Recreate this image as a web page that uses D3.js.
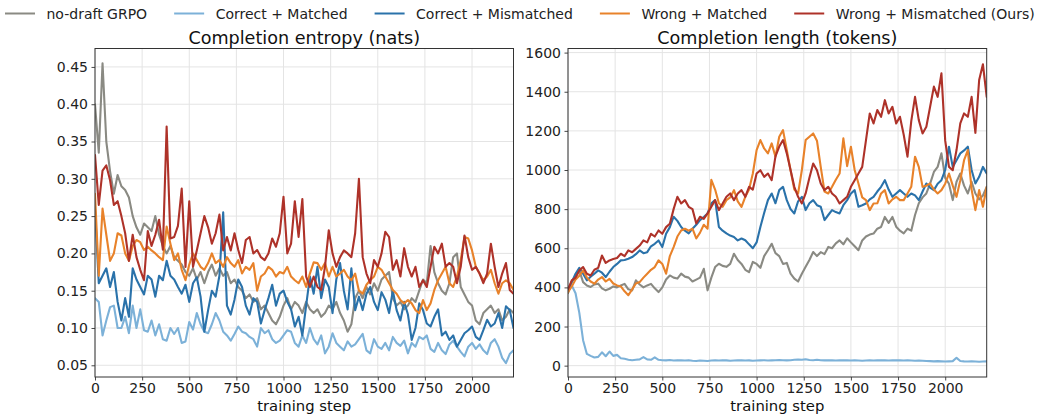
<!DOCTYPE html>
<html><head><meta charset="utf-8">
<script src="https://cdn.jsdelivr.net/npm/d3@7"></script>
<style>
body{margin:0;background:#fff}
svg{display:block}
text{font-family:"DejaVu Sans",sans-serif}
</style>
</head><body>
<svg id="chart" width="1038" height="414"></svg>
<script>
// ---------- DATA ----------
const steps = [
0,20,40,60,80,100,120,140,160,180,
200,220,240,260,280,300,320,340,360,380,
400,420,440,460,480,500,520,540,560,580,
600,620,640,660,680,700,720,740,760,780,
800,820,840,860,880,900,920,940,960,980,
1000,1020,1040,1060,1080,1100,1120,1140,1160,1180,
1200,1220,1240,1260,1280,1300,1320,1340,1360,1380,
1400,1420,1440,1460,1480,1500,1520,1540,1560,1580,
1600,1620,1640,1660,1680,1700,1720,1740,1760,1780,
1800,1820,1840,1860,1880,1900,1920,1940,1960,1980,
2000,2020,2040,2060,2080,2100,2120,2140,2160,2180,
2200,2220];

const seriesNames = ["no-draft GRPO","Correct + Matched","Correct + Mismatched","Wrong + Matched","Wrong + Mismatched (Ours)"];

// Completion entropy (nats)
const entropyNoDraft = [
0.40,0.335,0.455,0.35,0.31,0.28,0.305,0.29,0.285,0.275,
0.25,0.235,0.225,0.24,0.235,0.23,0.25,0.225,0.21,0.20,
0.21,0.195,0.19,0.185,0.175,0.17,0.18,0.165,0.175,0.16,
0.175,0.185,0.17,0.18,0.17,0.175,0.16,0.165,0.155,0.15,
0.14,0.145,0.135,0.14,0.125,0.13,0.12,0.11,0.105,0.115,
0.13,0.14,0.125,0.135,0.13,0.12,0.135,0.125,0.12,0.125,
0.115,0.12,0.13,0.125,0.135,0.12,0.11,0.095,0.105,0.14,
0.15,0.14,0.155,0.145,0.16,0.15,0.165,0.17,0.175,0.14,
0.13,0.135,0.125,0.13,0.14,0.135,0.15,0.165,0.16,0.21,
0.175,0.16,0.15,0.145,0.16,0.195,0.20,0.155,0.145,0.135,
0.13,0.11,0.105,0.12,0.125,0.13,0.12,0.125,0.11,0.115,
0.125,0.12];
const entropyCorrectMatched = [
0.14,0.135,0.09,0.11,0.128,0.13,0.10,0.10,0.115,0.093,
0.13,0.10,0.125,0.097,0.095,0.11,0.09,0.105,0.085,0.083,
0.10,0.092,0.10,0.08,0.082,0.108,0.098,0.12,0.105,0.095,
0.093,0.105,0.12,0.11,0.095,0.09,0.083,0.092,0.102,0.095,
0.093,0.088,0.085,0.075,0.10,0.093,0.097,0.085,0.08,0.083,
0.09,0.097,0.095,0.08,0.075,0.09,0.08,0.10,0.085,0.078,
0.09,0.066,0.075,0.093,0.08,0.075,0.07,0.082,0.075,0.078,
0.085,0.092,0.07,0.066,0.085,0.075,0.072,0.08,0.07,0.088,
0.08,0.076,0.083,0.066,0.08,0.075,0.088,0.085,0.09,0.072,
0.068,0.08,0.07,0.065,0.078,0.083,0.075,0.068,0.062,0.075,
0.08,0.072,0.078,0.07,0.065,0.08,0.085,0.075,0.06,0.053,
0.065,0.07];
const entropyCorrectMismatched = [
0.26,0.16,0.17,0.18,0.155,0.175,0.135,0.11,0.14,0.115,
0.18,0.165,0.155,0.145,0.17,0.165,0.142,0.17,0.164,0.19,
0.17,0.165,0.155,0.146,0.158,0.135,0.16,0.168,0.142,0.095,
0.124,0.15,0.142,0.17,0.255,0.13,0.118,0.138,0.165,0.155,
0.13,0.118,0.14,0.135,0.106,0.124,0.14,0.158,0.13,0.146,
0.15,0.135,0.125,0.102,0.115,0.09,0.13,0.169,0.146,0.182,
0.14,0.165,0.155,0.12,0.165,0.187,0.15,0.125,0.18,0.124,
0.142,0.124,0.146,0.155,0.135,0.124,0.148,0.138,0.12,0.15,
0.124,0.11,0.135,0.118,0.084,0.10,0.133,0.124,0.106,0.102,
0.115,0.125,0.09,0.095,0.084,0.09,0.075,0.084,0.093,0.097,
0.102,0.088,0.084,0.097,0.111,0.102,0.106,0.12,0.10,0.129,
0.124,0.10];
const entropyWrongMatched = [
0.28,0.17,0.26,0.225,0.19,0.20,0.227,0.224,0.20,0.19,
0.21,0.218,0.215,0.2045,0.209,0.204,0.20,0.195,0.191,0.236,
0.213,0.191,0.20,0.178,0.164,0.185,0.20,0.191,0.182,0.178,
0.187,0.20,0.187,0.191,0.182,0.195,0.187,0.182,0.191,0.173,
0.182,0.178,0.187,0.15,0.169,0.173,0.182,0.178,0.169,0.175,
0.173,0.182,0.169,0.164,0.16,0.169,0.155,0.173,0.188,0.187,
0.178,0.187,0.169,0.182,0.169,0.173,0.178,0.169,0.164,0.173,
0.15,0.146,0.158,0.164,0.169,0.182,0.178,0.169,0.16,0.151,
0.146,0.1375,0.133,0.1375,0.133,0.124,0.12,0.1375,0.124,0.133,
0.151,0.164,0.173,0.182,0.16,0.155,0.169,0.191,0.222,0.22,
0.204,0.182,0.173,0.164,0.169,0.178,0.16,0.146,0.16,0.164,
0.16,0.151];
const entropyWrongMismatched = [
0.332,0.265,0.311,0.318,0.298,0.265,0.27,0.25,0.227,0.19,
0.225,0.195,0.178,0.164,0.23,0.21,0.225,0.245,0.205,0.37,
0.22,0.222,0.237,0.287,0.182,0.27,0.182,0.204,0.227,0.25,
0.235,0.213,0.227,0.252,0.204,0.222,0.204,0.227,0.2045,0.187,
0.218,0.222,0.20,0.2045,0.195,0.191,0.20,0.22,0.209,0.227,
0.276,0.20,0.213,0.27,0.222,0.273,0.169,0.155,0.169,0.155,
0.151,0.182,0.231,0.20,0.182,0.195,0.204,0.20,0.195,0.227,
0.30,0.195,0.173,0.16,0.191,0.182,0.20,0.229,0.222,0.178,
0.191,0.169,0.207,0.182,0.169,0.182,0.155,0.164,0.155,0.182,
0.209,0.20,0.213,0.182,0.187,0.182,0.16,0.182,0.224,0.195,
0.178,0.182,0.173,0.16,0.173,0.213,0.182,0.155,0.173,0.187,
0.151,0.146];

// Completion length (tokens)
const lengthNoDraft = [
370,430,453,487,427,410,402,415,419,395,
385,393,405,400,410,418,390,385,436,415,
400,410,418,395,376,400,440,461,450,445,
470,455,450,430,440,450,495,385,450,504,
521,510,505,520,572,540,520,490,478,530,
520,500,560,590,623,575,560,520,525,470,
445,430,470,505,540,581,560,580,570,607,
600,625,640,620,651,630,610,590,640,660,
670,675,700,709,760,730,760,710,690,676,
700,690,770,830,860,880,930,990,1016,1085,
960,930,846,940,982,920,880,940,880,850,
870,914];
const lengthCorrectMatched = [
380,410,370,270,130,60,50,42,45,68,
48,72,50,55,38,35,30,28,30,32,
44,32,30,42,30,28,27,29,26,28,
27,26,28,25,24,26,25,24,26,27,
26,28,27,25,26,27,28,26,27,25,
26,27,28,26,27,28,29,28,27,28,
30,31,30,33,29,28,30,28,27,28,
27,26,27,28,27,26,27,26,25,26,
27,26,27,28,27,26,27,28,27,26,
27,26,25,26,25,24,23,22,23,22,
21,22,23,40,24,22,21,22,21,20,
21,22];
const lengthCorrectMismatched = [
390,427,470,500,470,436,455,470,487,475,
453,480,504,520,538,540,546,555,570,589,
575,580,610,623,640,606,674,708,761,740,
709,690,676,700,720,744,760,778,830,846,
709,690,676,665,658,640,650,641,620,600,
630,709,780,846,880,830,897,914,846,800,
778,840,863,795,830,846,820,812,744,770,
795,785,778,820,846,880,897,812,820,829,
850,863,890,914,948,900,863,880,897,880,
863,880,870,846,890,931,910,897,930,948,
1000,1119,1016,1050,1085,1100,1119,1000,931,965,
1016,982];
const lengthWrongMatched = [
376,405,440,460,487,450,430,419,440,453,
430,444,420,410,405,380,360,390,420,427,
450,470,490,504,538,520,470,560,606,660,
691,700,690,700,650,680,720,700,950,900,
830,812,846,860,897,840,812,863,900,982,
1102,1153,1110,1085,1136,1068,1170,1204,1102,999,
900,880,1000,1153,1170,1187,1150,1016,890,880,
914,950,982,1162,1020,1119,1000,931,860,846,
795,829,830,880,897,829,850,863,846,846,
880,914,1068,1016,914,920,931,900,880,897,
930,982,920,863,948,1050,1102,900,795,897,
812,914];
const lengthWrongMismatched = [
390,436,450,487,504,470,461,490,500,563,
525,538,545,550,572,560,589,580,597,614,
640,630,674,660,691,674,708,725,800,863,
829,846,812,800,727,761,750,778,812,846,
795,829,863,880,846,880,897,863,914,900,
982,999,965,982,948,1070,1120,1153,1085,1000,
914,863,829,880,960,1033,999,931,897,914,
880,863,829,846,863,914,948,982,1016,1153,
1289,1238,1306,1272,1357,1289,1323,1238,1272,1180,
1068,1250,1374,1255,1187,1221,1323,1426,1374,1494,
1150,1016,999,1102,1238,1289,1272,1374,1190,1460,
1540,1374];

const xTicks = [0,250,500,750,1000,1250,1500,1750,2000];
const entropyTicks = [0.05,0.10,0.15,0.20,0.25,0.30,0.35,0.40,0.45];
const lengthTicks = [0,200,400,600,800,1000,1200,1400,1600];

// ---------- STYLE ----------
const colors = ["#8a8a83","#7cb1d8","#2a72aa","#e8822a","#ae3229"];
const W = 1038, H = 414;
const svg = d3.select("#chart");
svg.append("rect").attr("width",W).attr("height",H).attr("fill","#fff");

function panel(cfg){
  const x = d3.scaleLinear().domain([0,2220]).range([cfg.left,cfg.right]);
  const y = d3.scaleLinear().domain(cfg.yDomain).range([cfg.bottom,cfg.top]);
  const g = svg.append("g");
  const id = "clip"+cfg.key;
  svg.append("clipPath").attr("id",id).append("rect")
    .attr("x",cfg.left).attr("y",cfg.top)
    .attr("width",cfg.right-cfg.left).attr("height",cfg.bottom-cfg.top);

  // grid
  const grid = g.append("g").attr("stroke","#e4e4e4").attr("stroke-width",1);
  xTicks.forEach(t=>grid.append("line").attr("x1",x(t)).attr("x2",x(t)).attr("y1",cfg.top).attr("y2",cfg.bottom));
  cfg.yTicks.forEach(t=>grid.append("line").attr("y1",y(t)).attr("y2",y(t)).attr("x1",cfg.left).attr("x2",cfg.right));

  // lines
  const line = d3.line().x((d,i)=>x(steps[i])).y(d=>y(d));
  const lg = g.append("g").attr("clip-path",`url(#${id})`);
  cfg.series.forEach((s,k)=>{
    lg.append("path").datum(s).attr("d",line).attr("fill","none")
      .attr("stroke",colors[k]).attr("stroke-width",2.1)
      .attr("stroke-linejoin","round").attr("stroke-linecap","round");
  });

  // axes
  const xa = g.append("g").attr("transform",`translate(0,${cfg.bottom})`)
    .call(d3.axisBottom(x).tickValues(xTicks).tickSize(3.5).tickPadding(2.5).tickFormat(d3.format("d")));
  const ya = g.append("g").attr("transform",`translate(${cfg.left},0)`)
    .call(d3.axisLeft(y).tickValues(cfg.yTicks).tickSize(3.5).tickPadding(3.5).tickFormat(cfg.fmt));
  [xa,ya].forEach(a=>{
    a.select(".domain").remove();
    a.selectAll(".tick line").attr("stroke","#333").attr("stroke-width",0.9);
    a.selectAll(".tick text").attr("fill","#222").attr("font-size",14).attr("font-family","DejaVu Sans");
  });

  // frame
  g.append("rect").attr("x",cfg.left).attr("y",cfg.top)
    .attr("width",cfg.right-cfg.left).attr("height",cfg.bottom-cfg.top)
    .attr("fill","none").attr("stroke","#333").attr("stroke-width",1);

  // title & label
  const cx = (cfg.left+cfg.right)/2;
  g.append("text").attr("x",cx).attr("y",44).attr("text-anchor","middle")
    .attr("font-size",17.6).attr("fill","#111").text(cfg.title);
  g.append("text").attr("x",cx).attr("y",410.6).attr("text-anchor","middle")
    .attr("font-size",14.8).attr("fill","#111").text("training step");
}

panel({key:"L",left:95,right:513.5,top:48.5,bottom:377,yDomain:[0.0343,0.4747],
  yTicks:entropyTicks,fmt:d3.format(".2f"),title:"Completion entropy (nats)",
  series:[entropyNoDraft,entropyCorrectMatched,entropyCorrectMismatched,entropyWrongMatched,entropyWrongMismatched]});
panel({key:"R",left:568,right:986.7,top:48.5,bottom:377,yDomain:[-58,1621],
  yTicks:lengthTicks,fmt:d3.format("d"),title:"Completion length (tokens)",
  series:[lengthNoDraft,lengthCorrectMatched,lengthCorrectMismatched,lengthWrongMatched,lengthWrongMismatched]});

// legend
const leg = svg.append("g");
let lx = 5;
seriesNames.forEach((n,k)=>{
  leg.append("line").attr("x1",lx).attr("x2",lx+30).attr("y1",13.5).attr("y2",13.5)
    .attr("stroke",colors[k]).attr("stroke-width",2);
  const t = leg.append("text").attr("x",lx+41.5).attr("y",18.5).attr("font-size",14)
    .attr("fill","#222").text(n);
  lx = lx + 41.5 + t.node().getComputedTextLength() + 27;
});
</script>
</body></html>
